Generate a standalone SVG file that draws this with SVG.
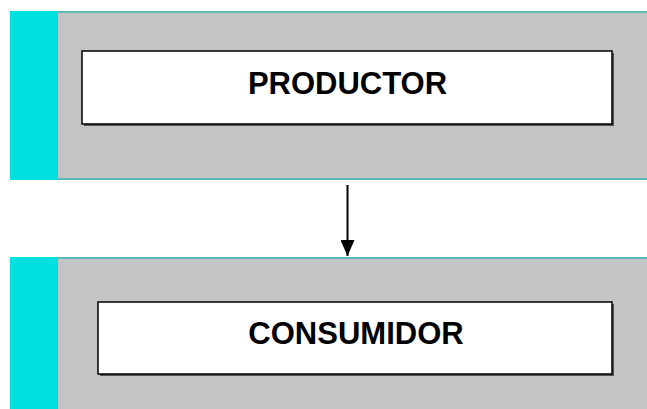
<svg xmlns="http://www.w3.org/2000/svg" width="647" height="409" viewBox="0 0 647 409">
<defs>
<style>
.band{fill:#c4c4c4}
.side{fill:#00e0e0}
.edge{stroke:#5fb8b5;stroke-width:2}
.box{fill:#fff;stroke:#000;stroke-width:1.5}
.shadow{fill:#555}
.lbl{font-family:"Liberation Sans",Arial,sans-serif;font-weight:bold;font-size:31px;fill:#000}
.conn{stroke:#000;stroke-width:2;fill:none}
</style>
<marker id="ah" markerWidth="16" markerHeight="14" refX="16" refY="7" orient="auto" markerUnits="userSpaceOnUse">
<path d="M0,0 L16,7 L0,14 Z" fill="#000"/>
</marker>
</defs>
<g id="productor">
<rect class="band" x="58" y="11" width="589" height="169"/>
<rect class="side" x="10" y="11" width="48" height="169"/>
<line class="edge" x1="58" y1="12" x2="647" y2="12"/>
<line class="edge" x1="58" y1="179" x2="647" y2="179"/>
<rect class="shadow" x="84" y="53" width="530" height="73"/>
<rect class="box" x="82" y="51" width="530" height="73"/>
<text class="lbl" x="347.5" y="94" text-anchor="middle">PRODUCTOR</text>
</g>
<g id="consumidor">
<rect class="band" x="58" y="257" width="589" height="152"/>
<rect class="side" x="10" y="257" width="48" height="152"/>
<line class="edge" x1="58" y1="258" x2="647" y2="258"/>
<rect class="shadow" x="100" y="304" width="514" height="72"/>
<rect class="box" x="98" y="302" width="514" height="72"/>
<text class="lbl" x="356" y="344" text-anchor="middle">CONSUMIDOR</text>
</g>
<g id="connectors">
<line class="conn" x1="347.5" y1="185" x2="347.5" y2="256" marker-end="url(#ah)"/>
</g>
</svg>
